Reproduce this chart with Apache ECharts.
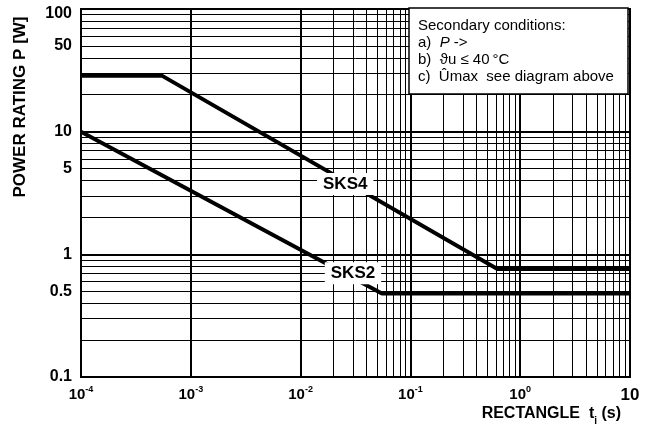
<!DOCTYPE html>
<html>
<head>
<meta charset="utf-8">
<script src="https://cdn.jsdelivr.net/npm/echarts@6/dist/echarts.min.js"></script>
<style>
html, body { margin: 0; padding: 0; background: #fff; }
#chart { width: 651px; height: 431px; }
</style>
</head>
<body>
<div id="chart"></div>
<script>
// curves (t in s, P in W)
var sks4T = [1e-4, 5.5e-4, 0.62, 10];
var sks4P = [28.5, 28.5, 0.76, 0.76];
var sks2T = [1e-4, 0.055, 10];
var sks2P = [10, 0.48, 0.48];

var curveNames = ['SKS4', 'SKS2'];
// where the curve names sit (data coords)
var nameT = [0.0255, 0.030];
var nameP = [3.75, 0.70];

var xDecades = [-4, -3, -2, -1, 0];
var yDecades = [-1, 0, 1];
var yExtraLabels = [0.5, 5, 50];

var noteLines = [
  '{n|Secondary conditions:}',
  '{n|a)  }{i|P}{n| ->}',
  '{n|b)  \u03d1u \u2264 40\u2009\u00b0C}',
  '{n|c)  \u00dbmax  see diagram above}'
];

var FONT = 'Liberation Sans, Arial, Helvetica, sans-serif';

function pairs(xs, ys) {
  var out = [];
  for (var i = 0; i < xs.length; i++) out.push([xs[i], ys[i]]);
  return out;
}

// minor grid positions 2..9 in each decade
var minorX = [], minorY = [];
xDecades.forEach(function (d) {
  for (var k = 2; k <= 9; k++) minorX.push(+(k * Math.pow(10, d)).toPrecision(3));
});
yDecades.forEach(function (d) {
  for (var k = 2; k <= 9; k++) minorY.push(+(k * Math.pow(10, d)).toPrecision(3));
});

var gridLines = [];
minorX.forEach(function (v) { gridLines.push({ xAxis: v }); });
minorY.forEach(function (v) {
  var item = { yAxis: v };
  if (yExtraLabels.indexOf(v) >= 0) {
    item.label = {
      show: true, position: 'start', distance: 9,
      formatter: String(v),
      color: '#000', fontWeight: 'bold', fontSize: 16, fontFamily: FONT
    };
  }
  gridLines.push(item);
});

var chart = echarts.init(document.getElementById('chart'));

var option = {
  animation: false,
  grid: { left: 81, right: 21, top: 9, bottom: 54, show: true, borderColor: '#000', borderWidth: 2 },
  xAxis: {
    type: 'log', logBase: 10, min: 1e-4, max: 10,
    axisLine: { show: true, lineStyle: { color: '#000', width: 2 } },
    axisTick: { show: false },
    splitLine: { show: true, lineStyle: { color: '#000', width: 2 } },
    axisLabel: {
      margin: 8, color: '#000',
      formatter: function (v) {
        var e = Math.round(Math.log10(v));
        if (e === 1) return '{t|10}';
        return '{b|10}{s|' + e + '}';
      },
      rich: {
        b: { fontSize: 15, fontWeight: 'bold', fontFamily: FONT, lineHeight: 17, verticalAlign: 'bottom' },
        s: { fontSize: 9, fontWeight: 'bold', fontFamily: FONT, lineHeight: 10, verticalAlign: 'top' },
        t: { fontSize: 17, fontWeight: 'bold', fontFamily: FONT, lineHeight: 19, padding: [2, 0, 0, 0] }
      }
    }
  },
  yAxis: {
    type: 'log', logBase: 10, min: 0.1, max: 100,
    axisLine: { show: true, lineStyle: { color: '#000', width: 2 } },
    axisTick: { show: false },
    splitLine: { show: true, lineStyle: { color: '#000', width: 2 } },
    axisLabel: {
      margin: 9, color: '#000', fontSize: 16, fontWeight: 'bold', fontFamily: FONT,
      formatter: function (v) {
        var s = String(+v.toPrecision(3));
        return v >= 99 ? '{top|' + s + '}' : s;
      },
      rich: {
        top: { fontSize: 16, fontWeight: 'bold', fontFamily: FONT, padding: [10, 0, 0, 0] }
      }
    }
  },
  series: [
    {
      type: 'line', data: [], silent: true,
      markLine: {
        silent: true, symbol: 'none', z: 1,
        lineStyle: { color: '#000', width: 1, type: 'solid' },
        label: { show: false },
        data: gridLines
      }
    },
    {
      name: curveNames[0], type: 'line', data: pairs(sks4T, sks4P),
      symbol: 'none', lineStyle: { color: '#000', width: 4 }, z: 5
    },
    {
      name: curveNames[1], type: 'line', data: pairs(sks2T, sks2P),
      symbol: 'none', lineStyle: { color: '#000', width: 4 }, z: 5
    },
    {
      type: 'scatter', symbolSize: 0, z: 20, zlevel: 1, silent: true,
      itemStyle: { color: '#fff', opacity: 1 },
      data: curveNames.map(function (n, i) { return { name: n, value: [nameT[i], nameP[i]] }; }),
      label: {
        show: true, position: 'inside', formatter: '{b}',
        color: '#000', fontSize: 17, fontWeight: 'bold', fontFamily: FONT,
        textBorderWidth: 0, textBorderColor: 'transparent',
        backgroundColor: '#fff', padding: [3, 6, 2, 6]
      }
    }
  ],
  graphic: [
    {
      type: 'text', x: 20, y: 107, rotation: Math.PI / 2,
      style: {
        text: 'POWER RATING P [W]', fill: '#000',
        font: 'bold 17px ' + FONT, align: 'center', verticalAlign: 'middle'
      }
    },
    {
      type: 'text', x: 621, y: 416,
      style: {
        text: '{b|RECTANGLE  t}{u|i}{b| (s)}', align: 'right', verticalAlign: 'middle',
        rich: {
          b: { fontSize: 16, fontWeight: 'bold', fontFamily: FONT, fill: '#000', lineHeight: 20, verticalAlign: 'top' },
          u: { fontSize: 10, fontWeight: 'bold', fontFamily: FONT, fill: '#000', lineHeight: 20, verticalAlign: 'bottom' }
        }
      }
    },
    {
      type: 'rect', z: 100, zlevel: 1,
      shape: { x: 409, y: 8, width: 219, height: 86 },
      style: { fill: '#fff', stroke: '#000', lineWidth: 1.5 }
    }
  ].concat(noteLines.map(function (t, i) {
    return {
      type: 'text', x: 418, y: 26 + i * 17, z: 101, zlevel: 1,
      style: {
        text: t, verticalAlign: 'middle',
        rich: {
          n: { fontSize: 15, fontFamily: FONT, fill: '#000' },
          i: { fontSize: 15, fontFamily: FONT, fontStyle: 'italic', fill: '#000' }
        }
      }
    };
  }))
};

chart.setOption(option);
</script>
</body>
</html>
